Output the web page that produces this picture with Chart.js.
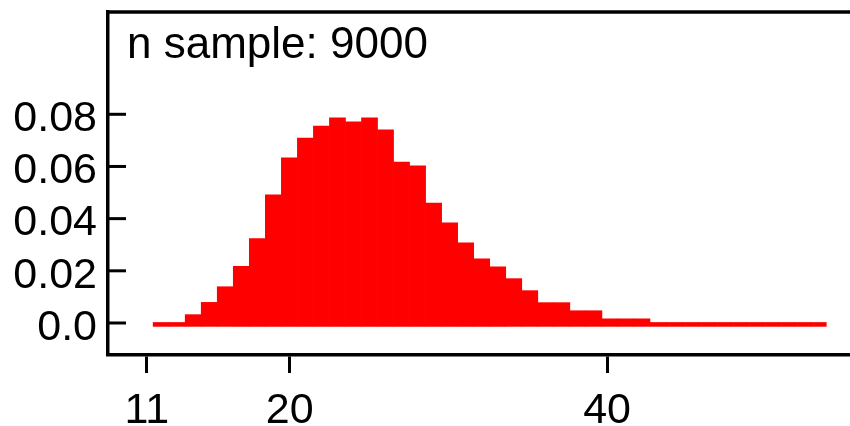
<!DOCTYPE html>
<html lang="en">
<head>
  <meta charset="UTF-8">
  <title>Histogram</title>
  <script src="https://cdn.jsdelivr.net/npm/chart.js"></script>
  <style>
    html, body { margin: 0; padding: 0; background: #fff; }
    #wrap { width: 850px; height: 426px; }
  </style>
</head>
<body>
  <div id="wrap">
    <canvas id="histChart" width="850" height="426"></canvas>
  </div>

  <script>
    // bin centres (x) and density of each bin (y)
    const binMids = [11.9, 12.91, 13.92, 14.93, 15.94, 16.95, 17.96, 18.97, 19.98, 20.99,
      22.0, 23.01, 24.02, 25.03, 26.04, 27.05, 28.06, 29.07, 30.08, 31.09,
      32.1, 33.11, 34.12, 35.13, 36.14, 37.15, 38.16, 39.17, 40.18, 41.19,
      42.2, 43.21, 44.22, 45.23, 46.24, 47.25, 48.26, 49.27, 50.28, 51.29,
      52.3, 53.31];
    const density = [0.0002, 0.0002, 0.0032, 0.0079, 0.0139, 0.0217, 0.0324, 0.0491, 0.0633, 0.0709,
      0.0755, 0.0786, 0.0771, 0.0786, 0.0740, 0.0617, 0.0602, 0.0460, 0.0384, 0.0307,
      0.0246, 0.0215, 0.0170, 0.0124, 0.0078, 0.0078, 0.0047, 0.0047, 0.0016, 0.0016,
      0.0016, 0.0002, 0.0002, 0.0002, 0.0002, 0.0002, 0.0002, 0.0002, 0.0002, 0.0002,
      0.0002, 0.0002];
    const xTicks = [11, 20, 40];
    const yTicks = [0, 0.02, 0.04, 0.06, 0.08];
    const yTickLabels = ["0.0", "0.02", "0.04", "0.06", "0.08"];
    const nSample = 9000;

    Chart.defaults.font.family = "'Liberation Sans', Arial, sans-serif";
    Chart.defaults.font.size = 43;
    Chart.defaults.color = "#000";

    // top frame line, inward y ticks and the sample size note
    const framePlugin = {
      id: "frame",
      afterDraw(chart) {
        const ctx = chart.ctx;
        const area = chart.chartArea;
        const y = chart.scales.y;
        ctx.save();
        ctx.strokeStyle = "#000";
        ctx.lineWidth = 3.5;
        ctx.beginPath();
        ctx.moveTo(area.left - 2, area.top);
        ctx.lineTo(area.right, area.top);
        ctx.stroke();

        ctx.lineWidth = 3;
        yTicks.forEach(v => {
          const py = y.getPixelForValue(v);
          ctx.beginPath();
          ctx.moveTo(area.left, py);
          ctx.lineTo(area.left + 18, py);
          ctx.stroke();
        });

        ctx.fillStyle = "#000";
        ctx.font = "44px 'Liberation Sans', Arial, sans-serif";
        ctx.textBaseline = "alphabetic";
        ctx.textAlign = "left";
        ctx.fillText("n sample: " + nSample, 127, 58);
        ctx.restore();
      }
    };

    new Chart(document.getElementById("histChart"), {
      type: "bar",
      data: {
        datasets: [{
          data: binMids.map((m, i) => ({ x: m, y: density[i] })),
          backgroundColor: "#ff0000",
          borderWidth: 0,
          base: -0.0013,
          barPercentage: 1,
          categoryPercentage: 1
        }]
      },
      options: {
        responsive: false,
        animation: false,
        devicePixelRatio: 1,
        layout: { padding: { top: 12, left: 0, right: 0, bottom: 0 } },
        plugins: {
          legend: { display: false },
          tooltip: { enabled: false }
        },
        scales: {
          x: {
            type: "linear",
            offset: false,
            min: 8.55,
            max: 55.31,
            afterBuildTicks: s => { s.ticks = xTicks.map(v => ({ value: v })); },
            afterFit: s => {
              s.height = 71;
              s.paddingLeft = 0;
              s.paddingRight = 0;
            },
            ticks: { autoSkip: false, maxRotation: 0, padding: 12, callback: v => String(v) },
            grid: {
              offset: false,
              drawOnChartArea: false,
              drawTicks: true,
              tickLength: 18,
              tickWidth: 3,
              color: "#000"
            },
            border: { display: true, width: 3.5, color: "#000" }
          },
          y: {
            type: "linear",
            min: -0.01227,
            max: 0.11921,
            afterBuildTicks: s => { s.ticks = yTicks.map(v => ({ value: v })); },
            afterFit: s => {
              s.width = 108;
              s.paddingTop = 0;
              s.paddingBottom = 0;
            },
            ticks: {
              autoSkip: false,
              padding: 11,
              labelOffset: 5,
              callback: v => yTickLabels[yTicks.indexOf(v)]
            },
            grid: { drawOnChartArea: false, drawTicks: false, color: "#000" },
            border: { display: true, width: 3.5, color: "#000" }
          }
        }
      },
      plugins: [framePlugin]
    });
  </script>
</body>
</html>
